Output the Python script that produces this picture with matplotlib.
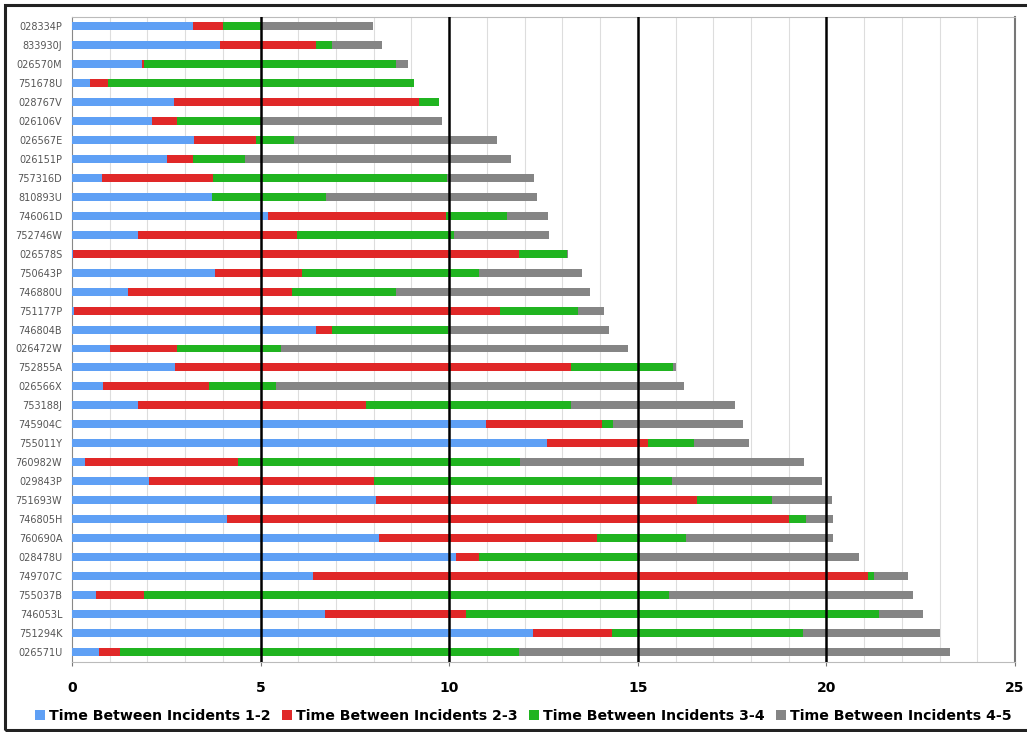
import matplotlib.pyplot as plt
from matplotlib.patches import Rectangle

ids = ["028334P", "833930J", "026570M", "751678U", "028767V", "026106V", "026567E",
       "026151P", "757316D", "810893U", "746061D", "752746W", "026578S", "750643P",
       "746880U", "751177P", "746804B", "026472W", "752855A", "026566X", "753188J",
       "745904C", "755011Y", "760982W", "029843P", "751693W", "746805H", "760690A",
       "028478U", "749707C", "755037B", "746053L", "751294K", "026571U"]

# time between incidents (one value per id, top row first)
t12 = [3.2, 3.92, 1.85, 0.48, 2.71, 2.11, 3.23, 2.53, 0.8, 3.71, 5.2, 1.76, 0.02, 3.79,
       1.49, 0.05, 6.48, 1.02, 2.74, 0.81, 1.76, 10.98, 12.58, 0.34, 2.04, 8.07, 4.1, 8.14,
       10.17, 6.38, 0.63, 6.7, 12.23, 0.72]
t23 = [0.8, 2.54, 0.05, 0.48, 6.48, 0.68, 1.66, 0.67, 2.93, 0.0, 4.72, 4.21, 11.84, 2.31,
       4.35, 11.29, 0.4, 1.77, 10.48, 2.83, 6.04, 3.08, 2.68, 4.05, 5.96, 8.49, 14.9, 5.78,
       0.62, 14.71, 1.28, 3.75, 2.09, 0.55]
t34 = [1.0, 0.42, 6.7, 8.11, 0.55, 2.21, 0.99, 1.38, 6.2, 3.02, 1.6, 4.16, 1.26, 4.68,
       2.76, 2.08, 3.09, 2.75, 2.71, 1.78, 5.42, 0.28, 1.23, 7.49, 7.91, 2.0, 0.47, 2.36,
       4.28, 0.16, 13.93, 10.94, 5.05, 10.58]
t45 = [2.98, 1.35, 0.3, 0.0, 0.0, 4.8, 5.39, 7.06, 2.31, 5.6, 1.11, 2.51, 0.03, 2.74,
       5.13, 0.68, 4.27, 9.2, 0.09, 10.81, 4.35, 3.44, 1.47, 7.52, 3.98, 1.59, 0.7, 3.89,
       5.8, 0.91, 6.46, 1.17, 3.64, 11.44]

labels = ["Time Between Incidents 1-2", "Time Between Incidents 2-3",
          "Time Between Incidents 3-4", "Time Between Incidents 4-5"]
colors = ["#5fa0f5", "#e02828", "#20b420", "#858585"]

fig = plt.figure(figsize=(10.27, 7.32), dpi=100)
ax = fig.add_axes([0.0701, 0.0956, 0.9182, 0.8815])

y = list(range(len(ids)))
left = [0.0] * len(ids)
for vals, lab, col in zip([t12, t23, t34, t45], labels, colors):
    ax.barh(y, vals, left=left, height=0.42, color=col, label=lab, zorder=3)
    left = [a + b for a, b in zip(left, vals)]

ax.set_xlim(0, 25)
ax.set_ylim(33.53, -0.49)
ax.set_yticks(y)
ax.set_yticklabels(ids, fontsize=7, color="#555555")
ax.tick_params(axis="y", length=0, pad=7)

ax.set_xticks([0, 5, 10, 15, 20, 25])
ax.set_xticks(range(26), minor=True)
ax.tick_params(axis="x", which="major", length=3, pad=11, labelsize=10, color="#777777")
ax.tick_params(axis="x", which="minor", length=0)
for t in ax.get_xticklabels():
    t.set_fontweight("bold")

ax.grid(axis="x", which="minor", color="#dddddd", lw=0.8, zorder=0)
for v in [5, 10, 15, 20]:
    ax.axvline(v, color="black", lw=1.8, zorder=4)

for s in ["top", "bottom"]:
    ax.spines[s].set_color("#bbbbbb")
ax.spines["left"].set_color("#888888")
ax.spines["right"].set_color("#777777")
ax.spines["right"].set_linewidth(1.5)

fig.legend(loc="center", bbox_to_anchor=(0.5097, 0.022), ncol=4, frameon=False,
           handlelength=0.7, handleheight=0.7, handletextpad=0.3, columnspacing=0.8,
           prop={"weight": "bold", "size": 10.2})

fig.patches.append(Rectangle((5 / 1027, 2 / 732), 1.1, 725 / 732, transform=fig.transFigure,
                             fill=False, edgecolor="#222222", lw=2.2))

fig.savefig("out.png", dpi=100)
